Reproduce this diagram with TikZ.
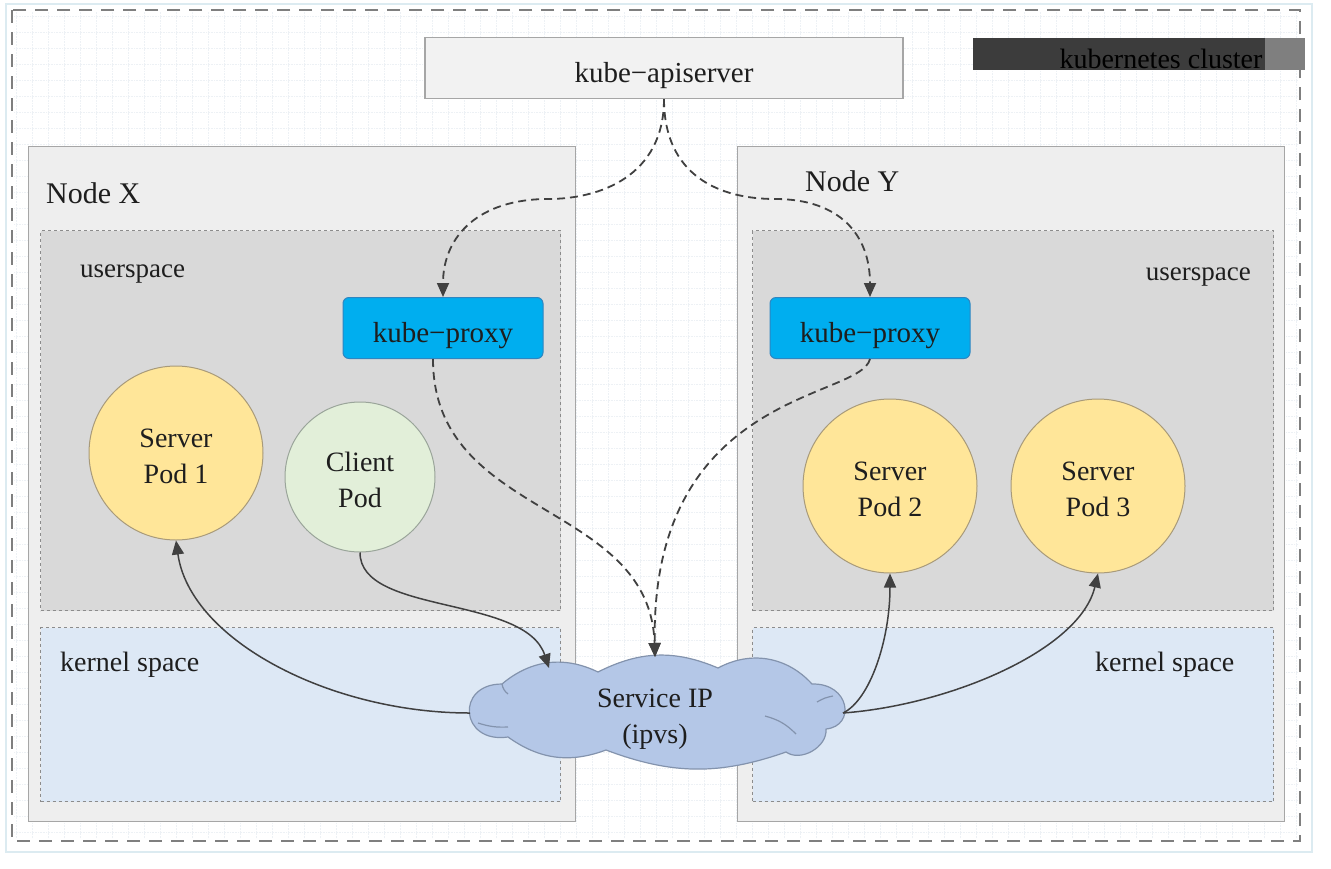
\documentclass[tikz,border=0pt]{standalone}
\usepackage{fontspec}
\setmainfont{Liberation Serif}
\usetikzlibrary{arrows.meta}
\definecolor{frameblue}{HTML}{DCEBF1}
\definecolor{gridc}{HTML}{EDF1F5}
\definecolor{outerc}{HTML}{7F7F7F}
\definecolor{boxline}{HTML}{A6A6A6}
\definecolor{nodefill}{HTML}{EEEEEE}
\definecolor{userfill}{HTML}{D9D9D9}
\definecolor{kernfill}{HTML}{DDE8F5}
\definecolor{dashline}{HTML}{8C8C8C}
\definecolor{apifill}{HTML}{F2F2F2}
\definecolor{proxyfill}{HTML}{00AEEF}
\definecolor{proxyline}{HTML}{2E86C1}
\definecolor{podyellow}{HTML}{FFE699}
\definecolor{podline}{HTML}{A89A7A}
\definecolor{clientfill}{HTML}{E2EFD9}
\definecolor{clientline}{HTML}{9AA59A}
\definecolor{cloudfill}{HTML}{B4C7E7}
\definecolor{cloudline}{HTML}{8393AD}
\definecolor{arrowc}{HTML}{404040}
\definecolor{txt}{HTML}{1E1E1E}
\definecolor{bardark}{HTML}{3C3C3C}
\definecolor{barlight}{HTML}{7F7F7F}
\begin{document}
\begin{tikzpicture}[x=1pt,y=-1pt,
  every node/.style={font=\fontsize{28}{36}\selectfont, text=txt},
  hostbox/.style={draw=boxline, line width=1.2pt, fill=nodefill, anchor=north west, inner sep=0pt},
  userbox/.style={draw=dashline, dashed, line width=1pt, fill=userfill, anchor=north west, inner sep=0pt},
  kernbox/.style={draw=dashline, dashed, line width=1pt, fill=kernfill, anchor=north west, inner sep=0pt},
  proxybox/.style={draw=proxyline, line width=1pt, fill=proxyfill, rounded corners=6pt, minimum width=200pt, minimum height=61pt, inner sep=0pt, font=\fontsize{29}{36}\selectfont, text height=28pt, text depth=0pt},
  podtext/.style={align=center, text height=60pt, text depth=0pt},
  serverpod/.style={circle, draw=podline, line width=1pt, fill=podyellow, minimum size=174pt, inner sep=0pt, podtext},
  clientpod/.style={circle, draw=clientline, line width=1pt, fill=clientfill, minimum size=150pt, inner sep=0pt, podtext},
  lbl/.style={anchor=base west, inner sep=0pt},
  cloudstyle/.style={draw=cloudline, line width=1.2pt, fill=cloudfill, line join=round},
  dasharrow/.style={draw=arrowc, line width=1.8pt, dash pattern=on 8pt off 5pt, -{Triangle[length=14pt,width=12pt]}},
  solidarrow/.style={draw=arrowc, line width=1.5pt, -{Triangle[length=14pt,width=12pt]}}
]
\useasboundingbox (0,0) rectangle (1331,868);
\fill[white] (0,0) rectangle (1331,868);
\draw[frameblue, line width=2pt] (6,4) rectangle (1312,852);
\draw[gridc, line width=0.6pt, densely dotted, step=16pt] (14,12) grid (1298,838);
\draw[outerc, line width=2.6pt, dash pattern=on 13pt off 9pt] (12,10) rectangle (1300,841);

% kube-apiserver
\node[draw=boxline, line width=1.2pt, fill=apifill, minimum width=478pt, minimum height=61pt, inner sep=0pt, font=\fontsize{29}{36}\selectfont, text height=28pt, text depth=0pt] (api) at (664,68) {kube\textminus apiserver};

% cluster label
\fill[bardark] (973,38) rectangle (1265,70);
\fill[barlight] (1265,38) rectangle (1305,70);
\node[anchor=base, inner sep=0pt, text=black] (cluster) at (1161,68) {kubernetes cluster};

% hosts
\node[hostbox, minimum width=547pt, minimum height=675pt] (nodeX) at (28,146) {};
\node[hostbox, minimum width=547pt, minimum height=675pt] (nodeY) at (737,146) {};
\node[lbl, font=\fontsize{30}{36}\selectfont] (nodeXl) at (46,203) {Node X};
\node[lbl, font=\fontsize{30}{36}\selectfont] (nodeYl) at (805,191) {Node Y};

\node[userbox, minimum width=520pt, minimum height=380pt] (userX) at (40,230) {};
\node[kernbox, minimum width=520pt, minimum height=174pt] (kernX) at (40,627) {};
\node[userbox, minimum width=521pt, minimum height=380pt] (userY) at (752,230) {};
\node[kernbox, minimum width=521pt, minimum height=174pt] (kernY) at (752,627) {};

\node[lbl, font=\fontsize{27}{36}\selectfont] (userXl) at (80,277) {userspace};
\node[lbl, anchor=base east, font=\fontsize{27}{36}\selectfont] (userYl) at (1251,280) {userspace};
\node[lbl] (kernXl) at (60,671) {kernel space};
\node[lbl] (kernYl) at (1095,671) {kernel space};

% proxies
\node[proxybox] (proxyX) at (443,328) {kube\textminus proxy};
\node[proxybox] (proxyY) at (870,328) {kube\textminus proxy};

% pods
\node[serverpod] (pod1) at (176,453) {Server\\Pod 1};
\node[clientpod] (client) at (360,477) {Client\\Pod};
\node[serverpod] (pod2) at (890,486) {Server\\Pod 2};
\node[serverpod] (pod3) at (1098,486) {Server\\Pod 3};

% cloud (drawn directly)
\path[cloudstyle] (502,684) to[bend left=33] (598,672) to[bend left=25] (718,668)
  to[bend left=38] (812,684) .. controls (850,683) and (856,726) .. (826,729)
  to[bend left=65] (786,752) to[bend left=20] (606,750) to[bend left=28] (508,737)
  .. controls (460,744) and (455,684) .. (502,684) -- cycle;
\draw[cloudline, line width=1.2pt] (478,723) to[bend right=10] (508,727);
\draw[cloudline, line width=1.2pt] (765,716) to[bend left=15] (796,734);
\draw[cloudline, line width=1.2pt] (817,702) to[bend left=10] (833,696);
\draw[cloudline, line width=1.2pt] (502,684) to[bend right=20] (508,694);
\coordinate (cloud) at (655,712);
\node[align=center, font=\fontsize{28}{36}\selectfont, text height=62pt, text depth=0pt] (svc) at (cloud) {Service IP\\(ipvs)};

\coordinate (cloudtop) at (655,657);
\coordinate (cloudin) at (549,668);
\coordinate (cloudL) at (470,713);
\coordinate (cloudR) at (843,713);
\coordinate (bendX) at (548,199);
\coordinate (bendY) at (775,199);

% dashed arrows
\draw[dasharrow] (api.south) .. controls +(0,77) and (600,199) .. (bendX) .. controls (480,199) and (443,235) .. (proxyX.north);
\draw[dasharrow] (api.south) .. controls +(0,77) and (720,199) .. (bendY) .. controls (840,199) and (870,235) .. (proxyY.north);
\draw[dasharrow] ([xshift=-10pt]proxyX.south) .. controls (433,520) and (650,500) .. (cloudtop);
\draw[dasharrow] (proxyY.south) .. controls (860,400) and (650,390) .. (cloudtop);

% solid arrows
\draw[solidarrow] (client.south) .. controls (360,615) and (525,595) .. (cloudin);
\draw[solidarrow] (cloudL) .. controls (330,713) and (190,640) .. (pod1.south);
\draw[solidarrow] (cloudR) .. controls (870,700) and (890,640) .. (pod2.south);
\draw[solidarrow] (cloudR) .. controls (950,705) and (1080,650) .. (pod3.south);
\end{tikzpicture}
\end{document}
